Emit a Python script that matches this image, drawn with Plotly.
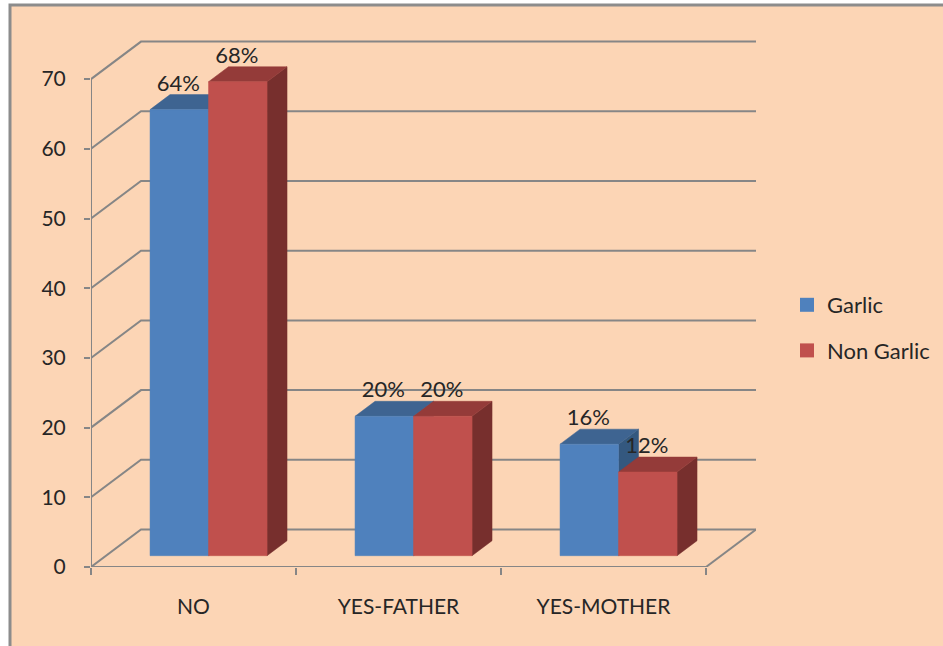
import plotly.graph_objects as go

categories = ["NO", "YES-FATHER", "YES-MOTHER"]
garlic = [64, 20, 16]
non_garlic = [68, 20, 12]
garlic_labels = ["64%", "20%", "16%"]
non_garlic_labels = ["68%", "20%", "12%"]
y_ticks = [0, 10, 20, 30, 40, 50, 60, 70]

W, H = 943, 646
L, R, T, B = 91, 756, 40, 567
PX_X, PX_Y = 205.0, 6.97
FONT = "Lato"
TXT = "#262626"
GRID = "#868686"
PEACH = "#FCD5B5"

wall_dx, wall_dy = 50 / PX_X, 37.5 / PX_Y
bar_dx, bar_dy = 20 / PX_X, 15 / PX_Y
base = 11.3 / PX_Y
bar_w = 58.5 / PX_X
bar_off = 0.288

fig = go.Figure()

# walls and floor grid
gx, gy = [], []
for v in y_ticks:
    gx += [0, wall_dx, 3 + wall_dx, None]
    gy += [v, v + wall_dy, v + wall_dy, None]
gx += [3, 3 + wall_dx, None, 0, 0, None, 0, 3]
gy += [0, wall_dy, None, 0, 70, None, 0, 0]
fig.add_trace(go.Scatter(x=gx, y=gy, mode="lines", line=dict(color=GRID, width=2),
                         showlegend=False, hoverinfo="skip", cliponaxis=False))


def poly(xs, ys, color):
    fig.add_trace(go.Scatter(x=xs + xs[:1], y=ys + ys[:1], mode="lines", fill="toself",
                             fillcolor=color, line=dict(color=color, width=0.5),
                             showlegend=False, hoverinfo="skip", cliponaxis=False))


series = [
    (garlic, "#4F81BD", "#3E6491", "#34587F"),
    (non_garlic, "#C0504D", "#943B39", "#772F2D"),
]
for i in range(len(categories)):
    for s, (vals, front, top, side) in enumerate(series):
        x0 = i + bar_off + s * bar_w
        x1 = x0 + bar_w
        y0 = base
        y1 = base + vals[i]
        poly([x1, x1 + bar_dx, x1 + bar_dx, x1], [y0, y0 + bar_dy, y1 + bar_dy, y1], side)
        poly([x0, x0 + bar_dx, x1 + bar_dx, x1], [y1, y1 + bar_dy, y1 + bar_dy, y1], top)
        poly([x0, x1, x1, x0], [y0, y0, y1, y1], front)

# data labels
lx, ly, lt = [], [], []
for i in range(len(categories)):
    for s, (vals, labs) in enumerate([(garlic, garlic_labels), (non_garlic, non_garlic_labels)]):
        lx.append(i + bar_off + s * bar_w + bar_w / 2 - 1 / PX_X)
        ly.append(base + vals[i] + 24.5 / PX_Y)
        lt.append(labs[i])
fig.add_trace(go.Scatter(x=lx, y=ly, text=lt, mode="text", textposition="middle center",
                         textfont=dict(family=FONT, size=22, color=TXT),
                         showlegend=False, hoverinfo="skip", cliponaxis=False))

# legend entries
for name, color in [("Garlic", "#4F81BD"), ("Non Garlic", "#C0504D")]:
    fig.add_trace(go.Scatter(x=[None], y=[None], mode="markers", name=name, legendgroup=name,
                             marker=dict(symbol="square", size=14, color=color)))

fig.update_layout(
    width=W, height=H,
    margin=dict(l=L, r=W - R, t=T, b=H - B, autoexpand=False),
    paper_bgcolor="white",
    plot_bgcolor="rgba(0,0,0,0)",
    font=dict(family=FONT, color=TXT),
    xaxis=dict(range=[0, (R - L) / PX_X], showgrid=False, zeroline=False, showline=False,
               tickmode="array", tickvals=[0.5, 1.5, 2.5], ticktext=categories, ticks="",
               tickfont=dict(family=FONT, size=21, color=TXT), ticklabelstandoff=25,
               minor=dict(tickmode="array", tickvals=[0, 1, 2, 3], ticks="outside",
                          ticklen=7, tickwidth=2, tickcolor=GRID, showgrid=False)),
    yaxis=dict(range=[0, (B - T) / PX_Y], showgrid=False, zeroline=False, showline=False,
               tickmode="array", tickvals=y_ticks, ticks="outside", ticklen=6, tickwidth=2,
               tickcolor=GRID, ticklabelstandoff=14,
               tickfont=dict(family=FONT, size=21, color=TXT)),
    legend=dict(x=(787 - L) / (R - L), xanchor="left", y=(B - 328) / (B - T), yanchor="middle",
                font=dict(family=FONT, size=22, color=TXT), tracegroupgap=14,
                bgcolor="rgba(0,0,0,0)", traceorder="grouped", itemsizing="trace"),
    shapes=[dict(type="rect", xref="paper", yref="paper", layer="below",
                 x0=(10 - L) / (R - L), x1=(W + 10 - L) / (R - L),
                 y0=(B - H - 10) / (B - T), y1=(B - 5) / (B - T),
                 fillcolor=PEACH, line=dict(color="#8C8C8C", width=3))],
)

fig.write_html("out.html", config={"displayModeBar": False},
               post_script="document.body.style.margin='0';document.body.style.overflow='hidden';")
